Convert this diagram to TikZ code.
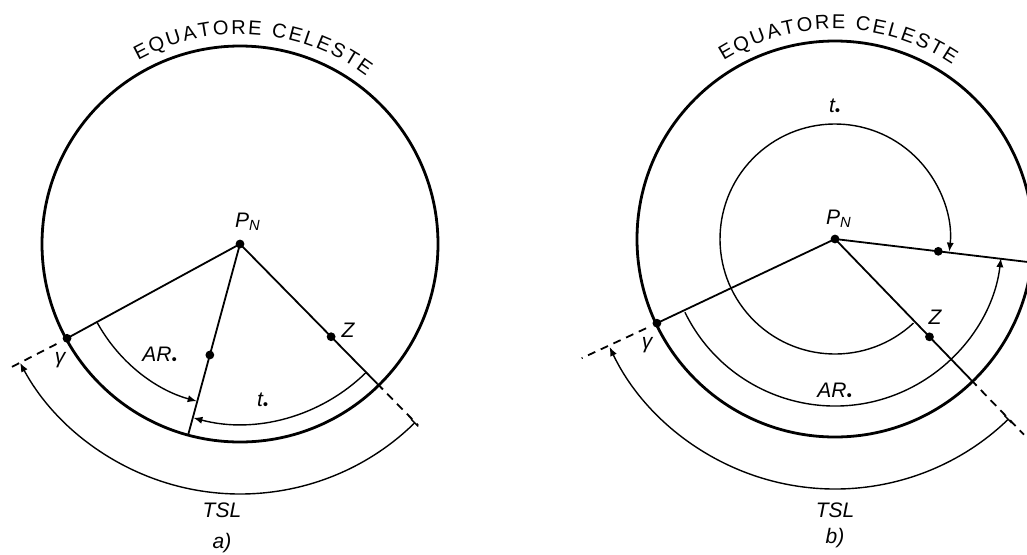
\documentclass[tikz,border=0pt]{standalone}
\usepackage{fontspec}
\setmainfont{Liberation Sans}
\usetikzlibrary{arrows.meta,decorations.text}

\begin{document}
\begin{tikzpicture}[x=0.5pt,y=0.5pt,
      cerchio/.style={line width=1.4pt},
      raggio/.style={line width=0.9pt},
      tratto/.style={line width=0.9pt,dash pattern=on 4pt off 3pt},
      arco/.style={line width=0.7pt,-{Latex[length=4.5pt,width=3.6pt]}},
      punto/.style={circle,fill,inner sep=0pt,minimum size=4.4pt},
      etich/.style={font=\itshape\fontsize{10.5}{12}\selectfont,inner sep=1pt},
      equatore/.style={decorate,decoration={text along path,text align=fit to path,
        text={|\fontsize{10}{12}\selectfont|EQUATORE CELESTE}}}]

    \useasboundingbox (0,0) rectangle (1027,554);
    \clip (0,0) rectangle (1027,554);

    % Pannello a)
    \begin{scope}[shift={(240,310)}]
      \draw[cerchio] (0,0) circle[radius=198];
      \path[equatore] (119:210) arc[start angle=119,end angle=53,radius=210];
      \node[punto] (PNa) at (0,0) {};
      \node[punto] (ga) at (208.6:197) {};
      \node[punto] (sa) at (254.8:115) {};
      \node[punto] (za) at (314.5:130) {};
      \coordinate (ga1) at (208.3:262);
      \coordinate (sa1) at (254.8:198);
      \coordinate (za1) at (314.5:196);
      \coordinate (za2) at (314.5:254);
      \draw[raggio] (PNa.center) -- (ga.center);
      \draw[raggio] (PNa.center) -- (sa1);
      \draw[raggio] (PNa.center) -- (za1);
      \draw[tratto] (ga.center) ++(208.3:12) -- (ga1);
      \draw[tratto] (za1) -- (za2);
      \draw[arco] (208.8:163) arc[start angle=208.8,end angle=254.6,radius=163];
      \draw[arco] (314.5:180) arc[start angle=314.5,end angle=255,radius=180];
      \draw[arco,{Bar[width=5pt]}-{Latex[length=4.5pt,width=3.6pt]}]
        (314.5:250) arc[start angle=314.5,end angle=208.4,radius=250];
      \node[etich] (lPNa) at (8,22) {P\textsubscript{N}};
      \node[etich] (lga) at (-180,-116) {γ};
      \node[etich] (lza) at (108,-86) {Z};
      \node[etich] (lARa) at (-80,-112) {AR\textsubscript{\textbullet}};
      \node[etich] (lta) at (23,-157) {t\textsubscript{\textbullet}};
      \node[etich] (lTSLa) at (-18,-266) {TSL};
      \node[etich] (capa) at (-18,-299) {a)};
    \end{scope}

    % Pannello b)
    \begin{scope}[shift={(835,315)}]
      \draw[cerchio] (0,0) circle[radius=198];
      \path[equatore] (122:210) arc[start angle=122,end angle=56,radius=210];
      \node[punto] (PNb) at (0,0) {};
      \node[punto] (gb) at (205.3:197) {};
      \node[punto] (sb) at (353.2:104) {};
      \node[punto] (zb) at (314:136) {};
      \coordinate (gb1) at (205.2:280);
      \coordinate (sb1) at (353.2:200);
      \coordinate (zb1) at (314:196);
      \coordinate (zb2) at (314:272);
      \draw[raggio] (PNb.center) -- (gb.center);
      \draw[raggio] (PNb.center) -- (sb1);
      \draw[raggio] (PNb.center) -- (zb1);
      \draw[tratto] (gb.center) ++(205.2:12) -- (gb1);
      \draw[tratto] (zb1) -- (zb2);
      \draw[arco] (313:115) arc[start angle=313,end angle=-6.3,radius=115];
      \draw[arco] (206:167) arc[start angle=206,end angle=353.4,radius=167];
      \draw[arco,{Bar[width=5pt]}-{Latex[length=4.5pt,width=3.6pt]}]
        (314:250) arc[start angle=314,end angle=205.6,radius=250];
      \node[etich] (lPNb) at (4,20) {P\textsubscript{N}};
      \node[etich] (lgb) at (-188,-106) {γ};
      \node[etich] (lzb) at (100,-78) {Z};
      \node[etich] (ltb) at (0,132) {t\textsubscript{\textbullet}};
      \node[etich] (lARb) at (0,-153) {AR\textsubscript{\textbullet}};
      \node[etich] (lTSLb) at (0,-271) {TSL};
      \node[etich] (capb) at (0,-299) {b)};
    \end{scope}
  \end{tikzpicture}
\end{document}
